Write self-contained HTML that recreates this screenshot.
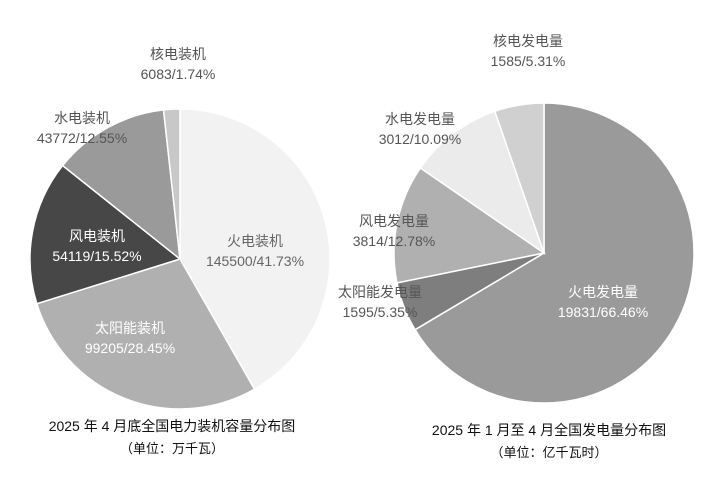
<!DOCTYPE html>
<html><head><meta charset="utf-8"><style>
html,body{margin:0;padding:0;background:#fff;}
svg text{font-family:"Liberation Sans","Noto Sans CJK SC",sans-serif;}
</style></head><body>
<svg id="s" width="718" height="483" viewBox="0 0 718 483" xmlns="http://www.w3.org/2000/svg">
<rect width="718" height="483" fill="#fff"/>
<g id="L"></g><g id="R"></g>
<g font-size="14" text-anchor="middle" fill="#555">
<text x="178" y="59">核电装机</text>
<text x="178" y="79">6083/1.74%</text>
<text x="82" y="123">水电装机</text>
<text x="82" y="143">43772/12.55%</text>
<text x="97" y="241" fill="#fff">风电装机</text>
<text x="97" y="261" fill="#fff">54119/15.52%</text>
<text x="255" y="246" fill="#666">火电装机</text>
<text x="255" y="266" fill="#666">145500/41.73%</text>
<text x="130" y="333" fill="#fff">太阳能装机</text>
<text x="130" y="353" fill="#fff">99205/28.45%</text>
<text x="528" y="46">核电发电量</text>
<text x="528" y="66">1585/5.31%</text>
<text x="420" y="124">水电发电量</text>
<text x="420" y="144">3012/10.09%</text>
<text x="394" y="226">风电发电量</text>
<text x="394" y="246">3814/12.78%</text>
<text x="380" y="297">太阳能发电量</text>
<text x="380" y="317">1595/5.35%</text>
<text x="603" y="297" fill="#fff">火电发电量</text>
<text x="603" y="317" fill="#fff">19831/66.46%</text>
</g>
<g font-size="14" text-anchor="middle" fill="#111">
<text x="172" y="431">2025 年 4 月底全国电力装机容量分布图</text>
<text x="172" y="453" font-size="13">（单位：万千瓦）</text>
<text x="549" y="435">2025 年 1 月至 4 月全国发电量分布图</text>
<text x="549" y="457" font-size="13">（单位：亿千瓦时）</text>
</g>
</svg>
<script>
function pie(id,cx,cy,r,data){
 var g=document.getElementById(id),a=0,h='';
 data.forEach(function(d){
  var a2=a+d[0]/100*2*Math.PI;
  var x1=cx+r*Math.sin(a),y1=cy-r*Math.cos(a),x2=cx+r*Math.sin(a2),y2=cy-r*Math.cos(a2);
  var lg=(a2-a)>Math.PI?1:0;
  h+='<path d="M'+cx+','+cy+' L'+x1+','+y1+' A'+r+','+r+' 0 '+lg+' 1 '+x2+','+y2+' Z" fill="'+d[1]+'" stroke="#fff" stroke-width="1.5"/>';
  a=a2;});
 g.innerHTML=h;}
pie('L',180,259,150,[[41.73,'#f2f2f2'],[28.45,'#b0b0b0'],[15.52,'#474747'],[12.55,'#9a9a9a'],[1.74,'#c8c8c8']]);
pie('R',544,253,150,[[66.46,'#9a9a9a'],[5.35,'#7e7e7e'],[12.78,'#b0b0b0'],[10.09,'#ebebeb'],[5.32,'#d0d0d0']]);
</script>
</body></html>
